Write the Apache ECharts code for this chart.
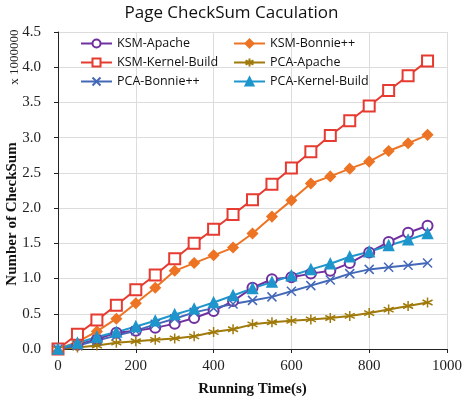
<!DOCTYPE html>
<html>
<head>
<meta charset="utf-8">
<script src="https://cdn.jsdelivr.net/npm/echarts@6/dist/echarts.min.js"></script>
<style>
  html, body { margin: 0; padding: 0; background: #fff; }
  #chart { width: 463px; height: 401px; }
</style>
</head>
<body>
<div id="chart"></div>
<script>
// running time (s), values in units of 1,000,000 checksums
var times = [0, 50, 100, 150, 200, 250, 300, 350, 400, 450, 500, 550, 600, 650, 700, 750, 800, 850, 900, 950];

var ksmApache = [0, 0.06, 0.14, 0.23, 0.26, 0.30, 0.36, 0.44, 0.54, 0.68, 0.87, 0.99, 1.02, 1.07, 1.11, 1.22, 1.37, 1.52, 1.65, 1.75];
var ksmBonnie = [0, 0.10, 0.25, 0.43, 0.65, 0.87, 1.11, 1.22, 1.33, 1.44, 1.64, 1.88, 2.11, 2.35, 2.45, 2.56, 2.66, 2.81, 2.92, 3.04];
var ksmKernel = [0, 0.21, 0.41, 0.62, 0.84, 1.05, 1.28, 1.50, 1.70, 1.91, 2.12, 2.34, 2.57, 2.80, 3.03, 3.24, 3.45, 3.67, 3.88, 4.09];
var pcaApache = [0, 0.02, 0.05, 0.09, 0.11, 0.13, 0.15, 0.18, 0.24, 0.28, 0.35, 0.38, 0.40, 0.42, 0.44, 0.47, 0.51, 0.56, 0.61, 0.66];
var pcaBonnie = [0, 0.05, 0.12, 0.19, 0.26, 0.35, 0.43, 0.52, 0.58, 0.64, 0.69, 0.74, 0.82, 0.90, 0.98, 1.07, 1.13, 1.16, 1.19, 1.22];
var pcaKernel = [0, 0.085, 0.17, 0.24, 0.32, 0.40, 0.49, 0.57, 0.66, 0.76, 0.86, 0.95, 1.04, 1.13, 1.21, 1.31, 1.38, 1.47, 1.55, 1.64];

var SERIF = '"Liberation Serif", "DejaVu Serif", serif';
var SANS = '"Open Sans", "Noto Sans", sans-serif';

function pairs(values) {
    return times.map(function (t, i) { return [t, values[i]]; });
}

// stroke-only markers
var xMark = 'path://M0,0L10,10M10,0L0,10';
var starMark = 'path://M5,0L5,10M0.7,2.5L9.3,7.5M9.3,2.5L0.7,7.5';

function makeSeries(name, values, color, symbol, size) {
    return {
        name: name,
        type: 'line',
        data: pairs(values),
        color: color,
        symbol: symbol,
        symbolSize: size,
        lineStyle: { width: 2, color: color },
        itemStyle: { color: color, borderColor: color, borderWidth: 1.5 },
        emphasis: { disabled: true },
        animation: false
    };
}

var legendText = { fontFamily: SANS, fontSize: 12.5, color: '#111', lineHeight: 15 };

var chart = echarts.init(document.getElementById('chart'));

chart.setOption({
    backgroundColor: '#fff',
    animation: false,
    title: {
        text: 'Page CheckSum Caculation',
        left: 'center',
        top: 0,
        textStyle: { fontFamily: SANS, fontSize: 17, fontWeight: 'normal', color: '#111' }
    },
    legend: [{
        data: ['KSM-Apache', 'KSM-Kernel-Build', 'PCA-Bonnie++'],
        orient: 'vertical',
        left: 80,
        top: 36,
        padding: 0,
        itemWidth: 31,
        itemHeight: 10,
        itemGap: 4,
        textStyle: legendText
    }, {
        data: ['KSM-Bonnie++', 'PCA-Apache', 'PCA-Kernel-Build'],
        orient: 'vertical',
        left: 233,
        top: 36,
        padding: 0,
        itemWidth: 31,
        itemHeight: 10,
        itemGap: 4,
        textStyle: legendText
    }],
    grid: { left: 58, right: 16, top: 32, bottom: 52, containLabel: false, outerBoundsMode: 'none' },
    xAxis: {
        type: 'value',
        min: 0,
        max: 1000,
        interval: 200,
        name: 'Running Time(s)',
        nameLocation: 'middle',
        nameGap: 33,
        nameTextStyle: { fontFamily: SERIF, fontSize: 15, fontWeight: 'bold', color: '#111' },
        axisLine: { show: true, onZero: false, lineStyle: { color: '#222', width: 1 } },
        axisTick: { show: true, inside: false, length: 4, lineStyle: { color: '#222' } },
        axisLabel: {
            fontFamily: SERIF, fontSize: 15, color: '#222', margin: 10,
            formatter: function (v) { return String(v); }
        },
        splitLine: { show: true, lineStyle: { color: '#dcdcdc', width: 1 } }
    },
    yAxis: {
        type: 'value',
        min: 0,
        max: 4.5,
        interval: 0.5,
        axisLine: { show: true, lineStyle: { color: '#222', width: 1 } },
        axisTick: { show: true, inside: false, length: 4, lineStyle: { color: '#222' } },
        axisLabel: {
            fontFamily: SERIF, fontSize: 15, color: '#222', margin: 17,
            formatter: function (v) { return v.toFixed(1); }
        },
        splitLine: { show: true, lineStyle: { color: '#dcdcdc', width: 1 } }
    },
    graphic: [{
        type: 'text',
        x: 12,
        y: 214,
        rotation: Math.PI / 2,
        style: {
            text: 'Number of CheckSum',
            fontFamily: SERIF, fontSize: 15, fontWeight: 'bold', fill: '#111',
            align: 'center', verticalAlign: 'middle'
        }
    }, {
        type: 'text',
        x: 15,
        y: 57,
        rotation: Math.PI / 2,
        style: {
            text: 'x 1000000',
            fontFamily: SERIF, fontSize: 13, fill: '#222',
            align: 'center', verticalAlign: 'middle'
        }
    }],
    series: [
        makeSeries('KSM-Apache', ksmApache, '#7030A0', 'emptyCircle', 10),
        makeSeries('KSM-Bonnie++', ksmBonnie, '#EC7424', 'diamond', 10),
        makeSeries('KSM-Kernel-Build', ksmKernel, '#E53B30', 'emptyRect', 11),
        makeSeries('PCA-Apache', pcaApache, '#A07A0A', starMark, 10),
        makeSeries('PCA-Bonnie++', pcaBonnie, '#4468B8', xMark, 9),
        makeSeries('PCA-Kernel-Build', pcaKernel, '#1E96CC', 'triangle', 10)
    ]
});
</script>
</body>
</html>
